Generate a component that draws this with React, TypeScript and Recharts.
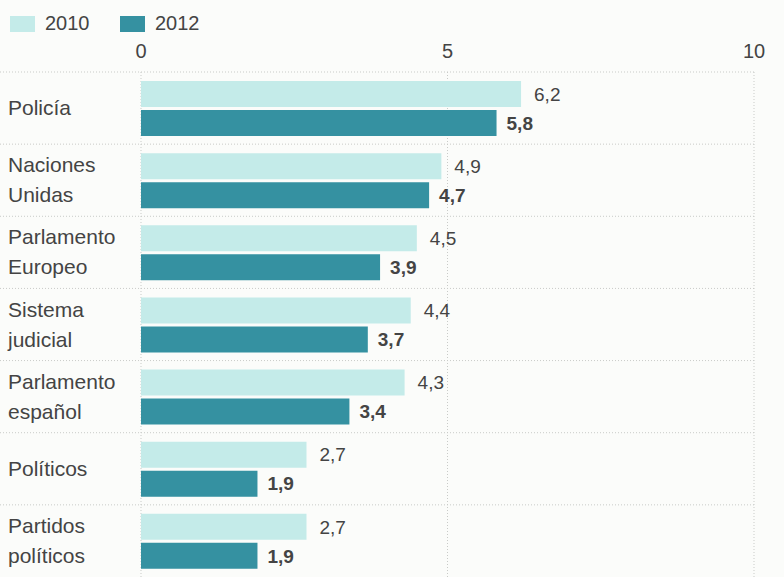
import { BarChart, Bar, XAxis, YAxis, CartesianGrid, LabelList } from 'recharts';

const categories = [
  'Policía',
  'Naciones Unidas',
  'Parlamento Europeo',
  'Sistema judicial',
  'Parlamento español',
  'Políticos',
  'Partidos políticos',
];
const values2010 = [6.2, 4.9, 4.5, 4.4, 4.3, 2.7, 2.7];
const values2012 = [5.8, 4.7, 3.9, 3.7, 3.4, 1.9, 1.9];
const xTicks = [0, 5, 10];

const series = [
  { key: 'y2010', name: '2010', color: '#c4ebe9' },
  { key: 'y2012', name: '2012', color: '#3591a1' },
];

const data = categories.map((name, i) => ({
  name,
  y2010: values2010[i],
  y2012: values2012[i],
}));

const TEXT = '#444';
const GRID = '#c9cbc8';

const fmt = (v: number) => String(v).replace('.', ',');

const CategoryTick = (props: any) => {
  const { y, payload } = props;
  const label: string = payload.value;
  const idx = label.indexOf(' ');
  const lines = idx === -1 ? [label] : [label.slice(0, idx), label.slice(idx + 1)];
  const start = lines.length === 1 ? 7 : -8;
  return (
    <text x={8} y={y} fill={TEXT} fontSize={21} textAnchor="start">
      {lines.map((l, i) => (
        <tspan key={i} x={8} dy={i === 0 ? start : 30}>
          {l}
        </tspan>
      ))}
    </text>
  );
};

// dotted separators at the top edge of each category band
const bandLines = ({ yAxis, offset }: any) => {
  const s = yAxis?.scale;
  if (typeof s === 'function' && typeof s.bandwidth === 'function') {
    return categories.map((c) => s(c));
  }
  return categories.map((_, i) => offset.top + (i * offset.height) / categories.length);
};

const GridLine = (p: any) => (
  <line
    key={p.key}
    x1={0}
    y1={p.y1}
    x2={p.x2}
    y2={p.y2}
    stroke={GRID}
    strokeDasharray="1 2"
    strokeWidth={1}
  />
);

export default function App() {
  return (
    <div
      style={{
        position: 'absolute',
        left: 0,
        top: 0,
        width: 784,
        height: 577,
        background: '#fbfcfa',
        fontFamily: '"Liberation Sans", Arial, sans-serif',
        overflow: 'hidden',
      }}
    >
      <div style={{ position: 'absolute', left: 10, top: 12, display: 'flex' }}>
        {series.map((s) => (
          <div key={s.key} style={{ display: 'flex', alignItems: 'center', width: 110 }}>
            <div style={{ width: 25, height: 16, background: s.color, marginRight: 10 }} />
            <span style={{ fontSize: 20, color: TEXT }}>{s.name}</span>
          </div>
        ))}
      </div>
      <BarChart
        width={784}
        height={577}
        data={data}
        layout="vertical"
        margin={{ top: 42, right: 30, bottom: 0, left: 0 }}
        barSize={26}
        barGap={3}
      >
        <CartesianGrid
          stroke={GRID}
          strokeDasharray="1 2"
          horizontalCoordinatesGenerator={bandLines}
          horizontal={GridLine}
        />
        <XAxis
          type="number"
          orientation="top"
          domain={[0, 10]}
          ticks={xTicks}
          axisLine={false}
          tickLine={false}
          tickSize={0}
          tickMargin={14}
          height={30}
          tick={{ fontSize: 20, fill: TEXT }}
        />
        <YAxis
          type="category"
          dataKey="name"
          width={141}
          axisLine={false}
          tickLine={false}
          tick={<CategoryTick />}
          interval={0}
        />
        <Bar dataKey="y2010" name="2010" fill={series[0].color} isAnimationActive={false}>
          <LabelList
            dataKey="y2010"
            position="right"
            offset={13}
            formatter={(v: any) => fmt(v)}
            style={{ fontSize: 19, fill: TEXT }}
          />
        </Bar>
        <Bar dataKey="y2012" name="2012" fill={series[1].color} isAnimationActive={false}>
          <LabelList
            dataKey="y2012"
            position="right"
            offset={10}
            formatter={(v: any) => fmt(v)}
            style={{ fontSize: 19, fill: TEXT, fontWeight: 700 }}
          />
        </Bar>
      </BarChart>
    </div>
  );
}
